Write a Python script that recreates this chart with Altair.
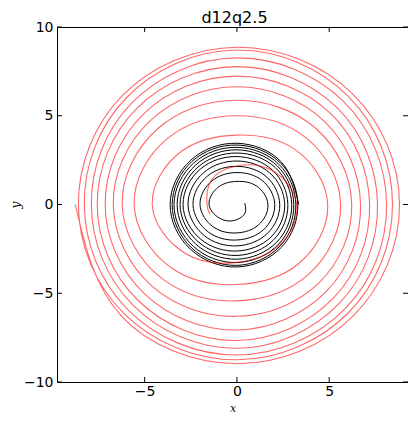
import altair as alt
import pandas as pd

# Red orbit (companion), inner end first
red_x = [-1.45, -1.62, -1.38, 0, 1.91, 3.24, 2.30, 0, -2.77,
         -4.59, -3.00, 0, 3.12, 4.92, 3.34, 0, -3.56,
         -5.57, -3.74, 0, 3.75, 5.62, 3.91, 0, -4.12,
         -6.22, -4.28, 0, 4.28, 6.22, 4.43, 0, -4.60,
         -6.70, -4.71, 0, 4.71, 6.70, 4.87, 0, -5.02,
         -7.14, -5.08, 0, 5.10, 7.19, 5.25, 0, -5.38,
         -7.57, -5.42, 0, 5.44, 7.62, 5.56, 0, -5.65,
         -7.89, -5.71, 0, 5.79, 8.11, 5.87, 0, -5.92,
         -8.27, -6.00, 0, 6.06, 8.43, 6.07, 0, -6.13,
         -8.59, -6.17, 0, 6.25, 8.81, 6.29, 0, -6.27,
         -8.76]
red_y = [-0.55, 0, 1.38, 2.17, 1.91, 0, -2.30, -3.26, -2.77,
         0, 3.00, 3.91, 3.12, 0, -3.34, -4.51, -3.56,
         0, 3.74, 5.00, 3.75, 0, -3.91, -5.43, -4.12,
         0, 4.28, 5.87, 4.28, 0, -4.43, -6.30, -4.60,
         0, 4.71, 6.63, 4.71, 0, -4.87, -7.07, -5.02,
         0, 5.08, 7.23, 5.10, 0, -5.25, -7.66, -5.38,
         0, 5.42, 7.77, 5.44, 0, -5.56, -8.10, -5.65,
         0, 5.71, 8.26, 5.79, 0, -5.87, -8.48, -5.92,
         0, 6.00, 8.70, 6.06, 0, -6.07, -8.75, -6.13,
         0, 6.17, 8.86, 6.25, 0, -6.29, -8.97, -6.27,
         0]

# Black orbit (primary), inner end first
black_x = [0.42, 0.45, 0, -0.83,
           -1.51, -0.99, 0, 1.05, 1.68, 1.16, 0, -1.27,
           -2.00, -1.34, 0, 1.36, 2.05, 1.43, 0, -1.55,
           -2.38, -1.60, 0, 1.58, 2.32, 1.64, 0, -1.76,
           -2.65, -1.80, 0, 1.78, 2.59, 1.84, 0, -1.96,
           -2.92, -1.99, 0, 1.93, 2.76, 1.99, 0, -2.10,
           -3.08, -2.11, 0, 2.08, 2.97, 2.14, 0, -2.23,
           -3.24, -2.23, 0, 2.18, 3.08, 2.25, 0, -2.36,
           -3.41, -2.34, 0, 2.27, 3.19, 2.34, 0, -2.45,
           -3.51, -2.43, 0, 2.35, 3.30, 2.41, 0, -2.52,
           -3.62, -2.50, 0, 2.40, 3.35]
black_y = [0.08, -0.45, -0.85, -0.83,
           0, 0.99, 1.30, 1.05, 0, -1.16, -1.60, -1.27,
           0, 1.34, 1.80, 1.36, 0, -1.43, -2.00, -1.55,
           0, 1.60, 2.15, 1.58, 0, -1.64, -2.33, -1.76,
           0, 1.80, 2.45, 1.78, 0, -1.84, -2.62, -1.96,
           0, 1.99, 2.70, 1.93, 0, -1.99, -2.87, -2.10,
           0, 2.11, 2.90, 2.08, 0, -2.14, -3.08, -2.23,
           0, 2.23, 3.08, 2.18, 0, -2.25, -3.27, -2.36,
           0, 2.34, 3.22, 2.27, 0, -2.34, -3.43, -2.45,
           0, 2.43, 3.35, 2.35, 0, -2.41, -3.52, -2.52,
           0, 2.50, 3.45, 2.40, 0]

x_ticks = [-5, 0, 5]
y_ticks = [-10, -5, 0, 5, 10]
title_text = "d12q2.5"

W, H = 351, 355
TICK = 5

red_df = pd.DataFrame({"x": red_x, "y": red_y, "i": list(range(len(red_x)))})
black_df = pd.DataFrame({"x": black_x, "y": black_y, "i": list(range(len(black_x)))})
xt_df = pd.DataFrame({"v": x_ticks})
yt_df = pd.DataFrame({"v": y_ticks})
title_df = pd.DataFrame({"t": [title_text]})

xs = alt.Scale(domain=[-9.75, 9.27], nice=False, zero=False)
ys = alt.Scale(domain=[-10, 10], nice=False, zero=False)

x_axis = alt.Axis(values=x_ticks, title="x", grid=False, ticks=False, domain=False,
                  labelPadding=2, titleY=29, titleBaseline="alphabetic",
                  titleFont="DejaVu Serif", titleFontStyle="italic", titleFontWeight="normal",
                  titleFontSize=11)
y_axis = alt.Axis(values=y_ticks, title="y", grid=False, ticks=False, domain=False,
                  labelPadding=4, titleX=-38, titleY=H / 2, titleAngle=-90,
                  titleBaseline="alphabetic",
                  titleFont="DejaVu Serif", titleFontStyle="italic", titleFontWeight="normal",
                  titleFontSize=12)

black_line = alt.Chart(black_df).mark_line(
    interpolate="natural", color="black", strokeWidth=1
).encode(
    x=alt.X("x:Q", scale=xs, axis=x_axis),
    y=alt.Y("y:Q", scale=ys, axis=y_axis),
    order="i:Q",
)

red_line = alt.Chart(red_df).mark_line(
    interpolate="natural", color="#ff0000", opacity=0.6, strokeWidth=1.1
).encode(
    x=alt.X("x:Q", scale=xs),
    y=alt.Y("y:Q", scale=ys),
    order="i:Q",
)

tick_top = alt.Chart(xt_df).mark_rule(color="black", strokeWidth=1).encode(
    x=alt.X("v:Q", scale=xs), y=alt.value(0), y2=alt.value(TICK))
tick_bottom = alt.Chart(xt_df).mark_rule(color="black", strokeWidth=1).encode(
    x=alt.X("v:Q", scale=xs), y=alt.value(H), y2=alt.value(H - TICK))
tick_left = alt.Chart(yt_df).mark_rule(color="black", strokeWidth=1).encode(
    y=alt.Y("v:Q", scale=ys), x=alt.value(0), x2=alt.value(TICK))
tick_right = alt.Chart(yt_df).mark_rule(color="black", strokeWidth=1).encode(
    y=alt.Y("v:Q", scale=ys), x=alt.value(W), x2=alt.value(W - TICK))

title_mark = alt.Chart(title_df).mark_text(
    font="DejaVu Sans", fontSize=16, color="black", align="center", baseline="alphabetic"
).encode(
    text="t:N", x=alt.value(W / 2 + 2), y=alt.value(-4)
)

chart = alt.layer(
    black_line, red_line, tick_top, tick_bottom, tick_left, tick_right, title_mark
).properties(
    width=W,
    height=H,
    autosize=alt.AutoSizeParams(type="none"),
    padding={"left": 49, "top": 19, "right": 0, "bottom": 31},
).configure_view(
    stroke="black", strokeWidth=1
).configure_axis(
    labelFont="DejaVu Sans", labelFontSize=14, labelColor="black", titleColor="black"
)

chart.save("out.html", embed_options={"renderer": "svg", "actions": False})
